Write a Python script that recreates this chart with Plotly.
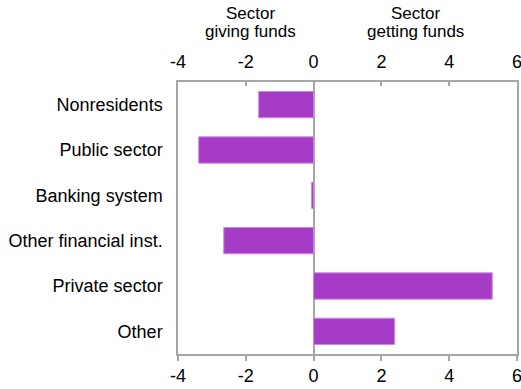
import plotly.graph_objects as go

categories = ["Nonresidents", "Public sector", "Banking system",
              "Other financial inst.", "Private sector", "Other"]
values = [-1.62, -3.39, -0.06, -2.65, 5.27, 2.39]
tick_vals = [-4, -2, 0, 2, 4, 6]
tick_text = ["-4", "-2", "0", "2", "4", "6"]

AXIS_COLOR = "#A6A6A6"
BAR_COLOR = "#A63BC6"
FONT = "Liberation Sans, Arial, sans-serif"

fig = go.Figure()
fig.add_trace(go.Bar(
    x=values, y=categories, orientation="h",
    marker=dict(color=BAR_COLOR, line=dict(color="#C98AE0", width=1)),
    width=0.58, showlegend=False,
))
# invisible trace to carry the top axis
fig.add_trace(go.Scatter(x=[-4, 6], y=[categories[0], categories[0]], xaxis="x2",
                         mode="markers", marker=dict(opacity=0), showlegend=False,
                         hoverinfo="skip"))

axis_common = dict(
    range=[-4, 6], tickvals=tick_vals, ticktext=tick_text, showgrid=False,
    showline=True, linecolor=AXIS_COLOR, linewidth=1.5, automargin=False,
    tickcolor=AXIS_COLOR, tickwidth=1.5, ticklabeloverflow="allow",
    tickfont=dict(size=18, color="#000000", family=FONT),
)

fig.update_layout(
    width=521, height=389,
    paper_bgcolor="white", plot_bgcolor="white",
    margin=dict(l=178, r=4, t=82, b=35),
    font=dict(family=FONT, size=18, color="#000000"),
    xaxis=dict(**axis_common, side="bottom", ticks="outside", ticklen=5,
               zeroline=True, zerolinecolor=AXIS_COLOR, zerolinewidth=1.5),
    xaxis2=dict(**axis_common, side="top", overlaying="x", ticks="inside",
                ticklen=4, ticklabelstandoff=5, zeroline=False),
    yaxis=dict(autorange="reversed", showline=True, linecolor=AXIS_COLOR,
               linewidth=1.5, mirror=True, ticks="", showgrid=False,
               automargin=False, ticklabelstandoff=10,
               tickfont=dict(size=18, family=FONT)),
    bargap=0.4,
)

headers = [(-1.85, "Sector", "giving funds"), (3.0, "Sector", "getting funds")]
for hx, line1, line2 in headers:
    fig.add_annotation(x=hx, y=1.0, xref="x", yref="paper", yshift=69,
                       text=line1, showarrow=False, yanchor="middle",
                       font=dict(size=17))
    fig.add_annotation(x=hx, y=1.0, xref="x", yref="paper", yshift=51,
                       text=line2, showarrow=False, yanchor="middle",
                       font=dict(size=17))

# drop the page's default body margin so the figure sits at the window corner
fig.write_html("out.html", config={"displayModeBar": False},
               post_script="document.body.style.margin='0';")
